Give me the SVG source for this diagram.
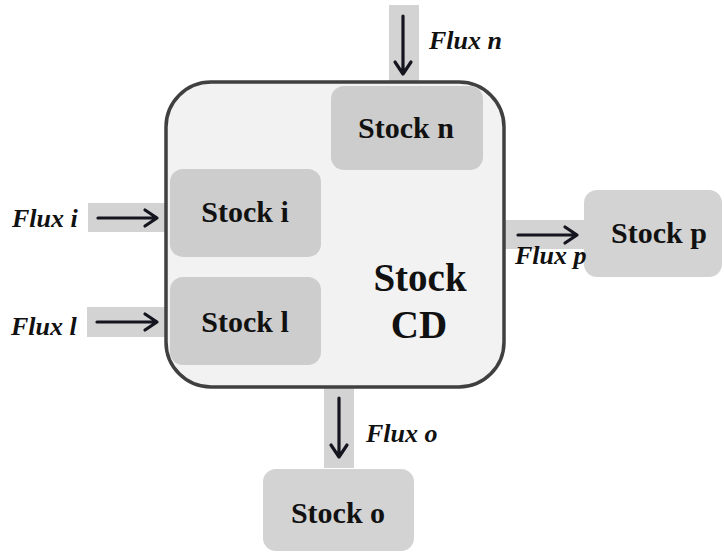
<svg xmlns="http://www.w3.org/2000/svg" width="724" height="554" viewBox="0 0 724 554">
<style>
.band{fill:#d3d3d3}
.stock{fill:#cdcdcd}
.outer{fill:#d3d3d3}
.lbl{font-family:"Liberation Serif",serif;font-weight:bold;font-size:30px;fill:#111;text-anchor:middle}
.big{font-family:"Liberation Serif",serif;font-weight:bold;font-size:39px;fill:#111;text-anchor:middle}
.flux{font-family:"Liberation Serif",serif;font-weight:bold;font-style:italic;font-size:26px;fill:#111}
.arr{fill:none;stroke:#15151f;stroke-width:3.2;stroke-linecap:round;stroke-linejoin:round}
</style>
<rect width="724" height="554" fill="#ffffff"/>
<g id="bands">
<rect class="band" x="389" y="5" width="30" height="78"/>
<rect class="band" x="88" y="203" width="79" height="29"/>
<rect class="band" x="87" y="307" width="80" height="30"/>
<rect class="band" x="504" y="220" width="83" height="29"/>
<rect class="band" x="324" y="386" width="30" height="82"/>
</g>
<g id="stock-cd">
<rect x="166" y="82" width="338" height="305" rx="45" ry="45" fill="#f2f2f2" stroke="#404040" stroke-width="3.5"/>
<text class="big" x="420" y="291">Stock</text>
<text class="big" x="419" y="338">CD</text>
</g>
<g id="stock-n">
<rect class="stock" x="331" y="86" width="152" height="84" rx="13"/>
<text class="lbl" x="406" y="138">Stock n</text>
</g>
<g id="stock-i">
<rect class="stock" x="170" y="169" width="151" height="88" rx="13"/>
<text class="lbl" x="245" y="222">Stock i</text>
</g>
<g id="stock-l">
<rect class="stock" x="170" y="277" width="151" height="88" rx="13"/>
<text class="lbl" x="245" y="332">Stock l</text>
</g>
<g id="stock-p">
<rect class="outer" x="584" y="190" width="138" height="87" rx="13"/>
<text class="lbl" x="659" y="243">Stock p</text>
</g>
<g id="stock-o">
<rect class="outer" x="263" y="469" width="151" height="82" rx="13"/>
<text class="lbl" x="338" y="523">Stock o</text>
</g>
<g id="connectors">
<path class="arr" d="M403,16 V73 M395,62 L403,74 L411,62"/>
<path class="arr" d="M98,218 H156 M145,210 L157,218 L145,226"/>
<path class="arr" d="M97,322 H156 M145,314 L157,322 L145,330"/>
<path class="arr" d="M518,235 H576 M565,227 L577,235 L565,243"/>
<path class="arr" d="M339,398 V456 M331,445 L339,457 L347,445"/>
</g>
<g id="labels">
<text class="flux" x="429" y="49">Flux n</text>
<text class="flux" x="12" y="227">Flux i</text>
<text class="flux" x="11" y="335">Flux l</text>
<text class="flux" x="515" y="264">Flux p</text>
<text class="flux" x="366" y="442">Flux o</text>
</g>
</svg>
